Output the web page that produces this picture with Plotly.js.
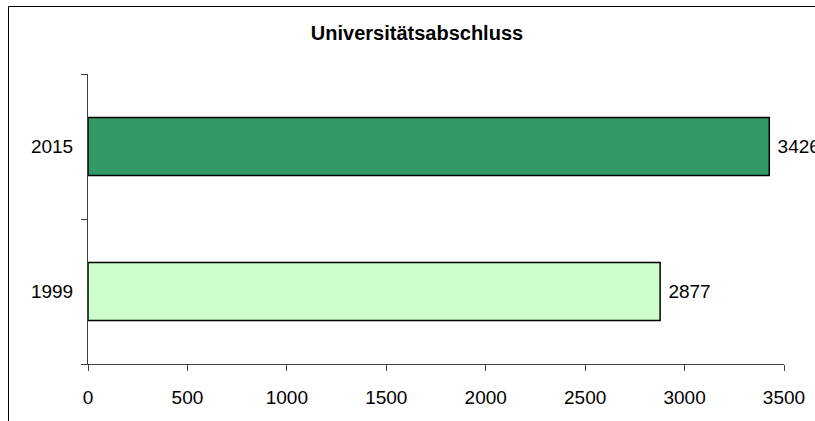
<!DOCTYPE html>
<html>
<head>
<meta charset="utf-8">
<script src="https://cdn.plot.ly/plotly-3.0.1.min.js"></script>
<style>
html,body{margin:0;padding:0;background:#fff;}
#chart{width:815px;height:421px;}
</style>
</head>
<body>
<div id="chart"></div>
<script>
var categories = ["1999", "2015"];
var values = [2877, 3426];
var barColors = ["#CCFFCC", "#339966"];
var xTicks = [0, 500, 1000, 1500, 2000, 2500, 3000, 3500];
var chartTitle = "Universitätsabschluss";

var L = 88, R = 784, T = 74, B = 364, W = 815, H = 421;
function px(x){ return (x - L) / (R - L); }
function py(y){ return (B - y) / (B - T); }

var trace = {
  type: "bar",
  orientation: "h",
  y: categories,
  x: values,
  width: 0.4,
  marker: {color: barColors, line: {color: "#000000", width: 1.5}},
  text: values.map(function(v){ return " " + v; }),
  textposition: "outside",
  textfont: {family: "Liberation Sans, Arial, sans-serif", size: 19, color: "#000"},
  cliponaxis: false,
  hoverinfo: "none"
};

var layout = {
  width: W, height: H,
  margin: {l: L, r: W - R, t: T, b: H - B, pad: 0},
  paper_bgcolor: "#ffffff",
  plot_bgcolor: "#ffffff",
  showlegend: false,
  font: {family: "Liberation Sans, Arial, sans-serif", size: 19, color: "#000"},
  title: {
    text: "<b>" + chartTitle + "</b>",
    font: {family: "Liberation Sans, Arial, sans-serif", size: 20, color: "#000"},
    x: 417 / W, xref: "container", xanchor: "center",
    y: 1 - 33 / H, yref: "container", yanchor: "middle"
  },
  xaxis: {
    range: [0, 3500],
    tickvals: xTicks,
    ticktext: xTicks.map(String),
    showgrid: false, zeroline: false,
    showline: true, linecolor: "#404040", linewidth: 1,
    ticks: "outside", ticklen: 6, tickcolor: "#404040", tickwidth: 1,
    tickfont: {size: 19},
    ticklabelstandoff: 10,
    fixedrange: true
  },
  yaxis: {
    type: "category",
    categoryorder: "array",
    categoryarray: categories,
    range: [-0.5, 1.5],
    tickson: "boundaries",
    showgrid: false, zeroline: false,
    showline: true, linecolor: "#404040", linewidth: 1,
    ticks: "outside", ticklen: 6, tickcolor: "#404040", tickwidth: 1,
    tickfont: {size: 19},
    ticklabelstandoff: 10,
    fixedrange: true
  },
  shapes: [
    {type: "line", xref: "paper", yref: "paper", x0: px(8.5), x1: px(8.5), y0: py(6.5), y1: py(430),
     line: {color: "#000", width: 1}},
    {type: "line", xref: "paper", yref: "paper", x0: px(8.5), x1: px(830), y0: py(6.5), y1: py(6.5),
     line: {color: "#000", width: 1}}
  ]
};

Plotly.newPlot("chart", [trace], layout, {staticPlot: true, displayModeBar: false});
</script>
</body>
</html>
